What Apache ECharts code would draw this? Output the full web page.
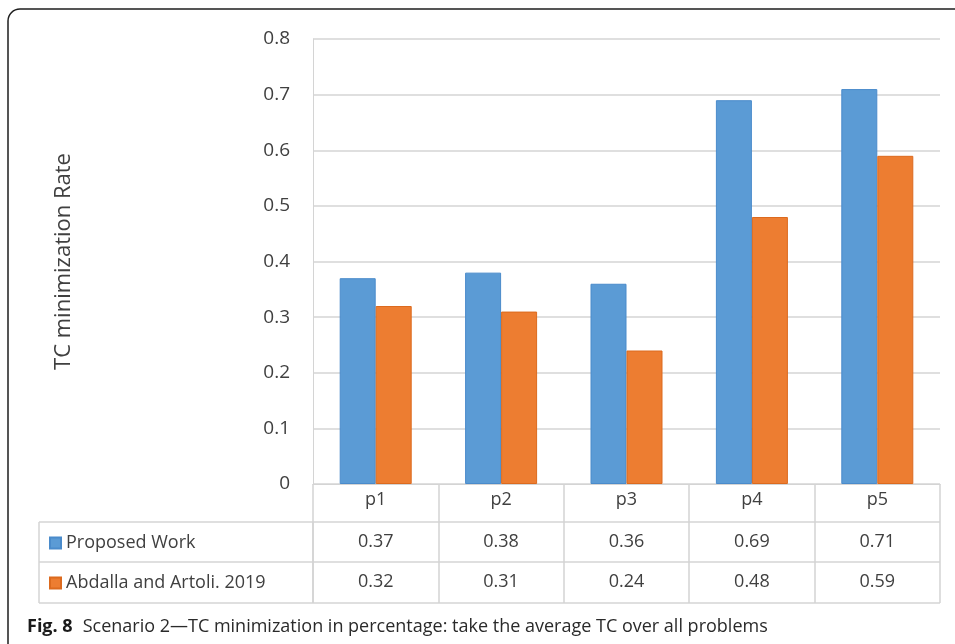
<!DOCTYPE html>
<html>
<head>
<meta charset="utf-8">
<script src="https://cdn.jsdelivr.net/npm/echarts@6/dist/echarts.min.js"></script>
<style>
  html, body { margin: 0; padding: 0; background: #fff; }
  #chart { width: 955px; height: 644px; }
</style>
</head>
<body>
<div id="chart"></div>
<script>
// data
var categories = ['p1', 'p2', 'p3', 'p4', 'p5'];
var seriesNames = ['Proposed Work', 'Abdalla and Artoli. 2019'];
var proposedWork = [0.37, 0.38, 0.36, 0.69, 0.71];
var abdallaArtoli = [0.32, 0.31, 0.24, 0.48, 0.59];
var yTicks = [0, 0.1, 0.2, 0.3, 0.4, 0.5, 0.6, 0.7, 0.8];

var FONT = '"Open Sans", "Noto Sans", sans-serif';
var TXT = '#404040';
var LINE = '#d4d4d4';

var chart = echarts.init(document.getElementById('chart'));

// table rows hang below the plot as extra category axes
function rowAxis(values, offset, margin) {
  return {
    type: 'category',
    gridIndex: 0,
    position: 'bottom',
    offset: offset,
    data: values.map(function (v) { return String(v); }),
    axisLine: { show: false },
    axisTick: { show: false },
    axisLabel: { color: TXT, fontSize: 18, fontFamily: FONT, margin: margin }
  };
}

var option = {
  animation: false,
  backgroundColor: '#fff',
  grid: { left: 313, right: 15, top: 39, bottom: 160, containLabel: false },
  legend: [
    {
      data: [seriesNames[0]],
      left: 44, top: 529,
      icon: 'rect', itemWidth: 11, itemHeight: 11, itemGap: 4,
      textStyle: { color: TXT, fontSize: 18, fontFamily: FONT },
      selectedMode: false
    },
    {
      data: [seriesNames[1]],
      left: 44, top: 569,
      icon: 'rect', itemWidth: 11, itemHeight: 11, itemGap: 4,
      textStyle: { color: TXT, fontSize: 18, fontFamily: FONT },
      selectedMode: false
    }
  ],
  title: {
    left: 22, top: 613,
    text: '{b|Fig. 8}  {n|Scenario 2\u2014TC minimization in percentage: take the average TC over all problems}',
    textStyle: {
      fontWeight: 'normal',
      rich: {
        b: { fontWeight: 'bold', fontSize: 18, color: '#1a1a1a', fontFamily: FONT },
        n: { fontWeight: 'normal', fontSize: 18, color: '#2a2a2a', fontFamily: FONT }
      }
    }
  },
  xAxis: [
    {
      type: 'category',
      data: categories,
      axisLine: { show: true, lineStyle: { color: LINE, width: 1 } },
      axisTick: { show: true, length: 119, lineStyle: { color: LINE, width: 1.5 } },
      axisLabel: { color: TXT, fontSize: 18, fontFamily: FONT, margin: 7 },
      splitLine: { show: false }
    },
    rowAxis(proposedWork, 38, 11),
    rowAxis(abdallaArtoli, 78, 11)
  ],
  yAxis: {
    type: 'value',
    min: yTicks[0],
    max: yTicks[yTicks.length - 1],
    interval: 0.1,
    name: 'TC minimization Rate',
    nameLocation: 'middle',
    nameRotate: 90,
    nameGap: 238,
    nameTextStyle: { color: TXT, fontSize: 22, fontFamily: FONT },
    axisLine: { show: true, lineStyle: { color: LINE } },
    axisTick: { show: false },
    axisLabel: {
      color: TXT, fontSize: 19, fontFamily: FONT, margin: 23,
      formatter: function (v) { return v === 0 ? '0' : v.toFixed(1); }
    },
    splitLine: { show: true, lineStyle: { color: LINE, width: 1.5 } }
  },
  series: [
    {
      name: seriesNames[0],
      type: 'bar',
      data: proposedWork,
      barWidth: 36,
      barGap: '0%',
      itemStyle: { color: '#5b9bd5', borderColor: '#4a8bcb', borderWidth: 1 }
    },
    {
      name: seriesNames[1],
      type: 'bar',
      data: abdallaArtoli,
      barWidth: 36,
      itemStyle: { color: '#ed7d31', borderColor: '#dc6a1e', borderWidth: 1 }
    }
  ]
};

chart.setOption(option);

// table borders around the rows, plus the figure frame
var x0 = chart.convertToPixel({ xAxisIndex: 0 }, categories[0]);
var x1 = chart.convertToPixel({ xAxisIndex: 0 }, categories[categories.length - 1]);
var half = (chart.convertToPixel({ xAxisIndex: 0 }, categories[1]) - x0) / 2;
var left = 39, plotLeft = x0 - half, right = x1 + half;
var rowTops = [522, 562, 603];

var g = [{
  type: 'rect',
  shape: { x: 8, y: 9, width: 990, height: 700, r: 12 },
  style: { fill: null, stroke: '#1e1e1e', lineWidth: 1.5 },
  silent: true
}];
rowTops.forEach(function (y) {
  g.push({
    type: 'line',
    shape: { x1: left, y1: y, x2: right, y2: y },
    style: { stroke: LINE, lineWidth: 1.5 },
    silent: true
  });
});
g.push({
  type: 'line',
  shape: { x1: left, y1: rowTops[0], x2: left, y2: rowTops[2] },
  style: { stroke: LINE, lineWidth: 1.5 },
  silent: true
});
g.push({
  type: 'line',
  shape: { x1: plotLeft, y1: rowTops[0], x2: plotLeft, y2: rowTops[2] },
  style: { stroke: LINE, lineWidth: 1.5 },
  silent: true
});

chart.setOption({ graphic: g });
</script>
</body>
</html>
